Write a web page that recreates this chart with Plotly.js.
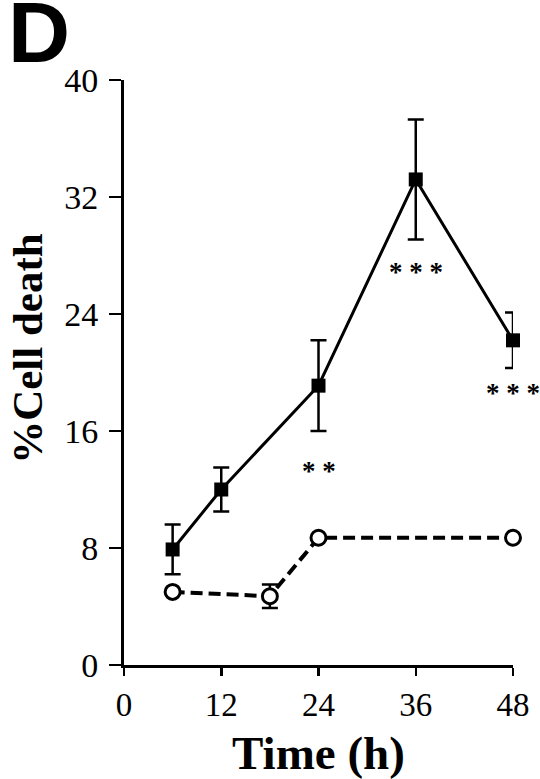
<!DOCTYPE html>
<html>
<head>
<meta charset="utf-8">
<script src="https://cdn.plot.ly/plotly-3.0.1.min.js"></script>
<style>html,body{margin:0;padding:0;background:#fff;}#chart{width:540px;height:779px;}</style>
</head>
<body>
<div id="chart"></div>
<script>
// Treated (filled squares, solid line)
var treatedTime = [6, 12, 24, 36, 48];
var treatedDeath = [7.9, 12.0, 19.1, 33.2, 22.2];
var treatedErr = [1.7, 1.5, 3.1, 4.1, 1.9];
// Control (open circles, dashed line)
var controlTime = [6, 18, 24, 48];
var controlDeath = [5.0, 4.7, 8.7, 8.7];
var controlErr = [null, 0.8, null, null];
// Significance marks
var sigTime = [24, 36, 48];
var sigY = [13.7, 27.3, 19.0];
var sigText = ['**', '***', '***'];
var xTicks = [0, 12, 24, 36, 48];
var yTicks = [0, 8, 16, 24, 32, 40];

var serif = 'Liberation Serif, Times New Roman, serif';

var traces = [
  {
    x: controlTime, y: controlDeath, type: 'scatter', mode: 'lines+markers',
    line: {color: '#000', width: 4, dash: '12px,6px'},
    marker: {symbol: 'circle', size: 15, color: '#fff', line: {color: '#000', width: 3}},
    error_y: {type: 'data', array: controlErr, visible: true, color: '#000', thickness: 2.5, width: 8},
    cliponaxis: false, showlegend: false
  },
  {
    x: treatedTime, y: treatedDeath, type: 'scatter', mode: 'lines+markers',
    line: {color: '#000', width: 3},
    marker: {symbol: 'square', size: 14, color: '#000'},
    error_y: {type: 'data', array: treatedErr, visible: true, color: '#000', thickness: 2.5, width: 8},
    cliponaxis: false, showlegend: false
  }
];

var annotations = [];
for (var i = 0; i < sigTime.length; i++) {
  annotations.push({x: sigTime[i], y: sigY[i], xref: 'x', yref: 'y', text: '<b>' + sigText[i].split('').join(' ') + '</b>', showarrow: false,
    font: {family: serif, size: 27, color: '#000'}, yshift: -6});
}
annotations.push({x: -0.303, y: 1.168, xref: 'paper', yref: 'paper', xanchor: 'left', yanchor: 'top',
  text: '<b>D</b>', showarrow: false, font: {family: 'Liberation Sans, Arial, sans-serif', size: 86, color: '#000'}});
annotations.push({x: -0.247, y: 0.542, xref: 'paper', yref: 'paper', xanchor: 'center', yanchor: 'middle',
  text: '<b>%Cell death</b>', textangle: -90, showarrow: false, font: {family: serif, size: 43, color: '#000'}});

var layout = {
  width: 540, height: 779,
  margin: {l: 124, r: 27, t: 80, b: 114},
  paper_bgcolor: '#fff', plot_bgcolor: '#fff',
  xaxis: {
    range: [0, 48], tickvals: xTicks, ticktext: xTicks.map(String),
    showline: true, linewidth: 3, linecolor: '#000', mirror: false,
    ticks: 'outside', ticklen: 8, tickwidth: 2.5, tickcolor: '#000',
    showgrid: false, zeroline: false,
    tickfont: {family: serif, size: 33, color: '#000'},
    title: {text: '<b>Time (h)</b>', font: {family: serif, size: 47, color: '#000'}, standoff: 16}
  },
  yaxis: {
    range: [0, 40], tickvals: yTicks, ticktext: yTicks.map(String),
    showline: true, linewidth: 3, linecolor: '#000',
    ticks: 'outside', ticklen: 12, tickwidth: 2.5, tickcolor: '#000',
    showgrid: false, zeroline: false, ticklabelstandoff: 4,
    tickfont: {family: serif, size: 34, color: '#000'}
  },
  annotations: annotations
};

Plotly.newPlot('chart', traces, layout, {displayModeBar: false, staticPlot: true});
</script>
</body>
</html>
